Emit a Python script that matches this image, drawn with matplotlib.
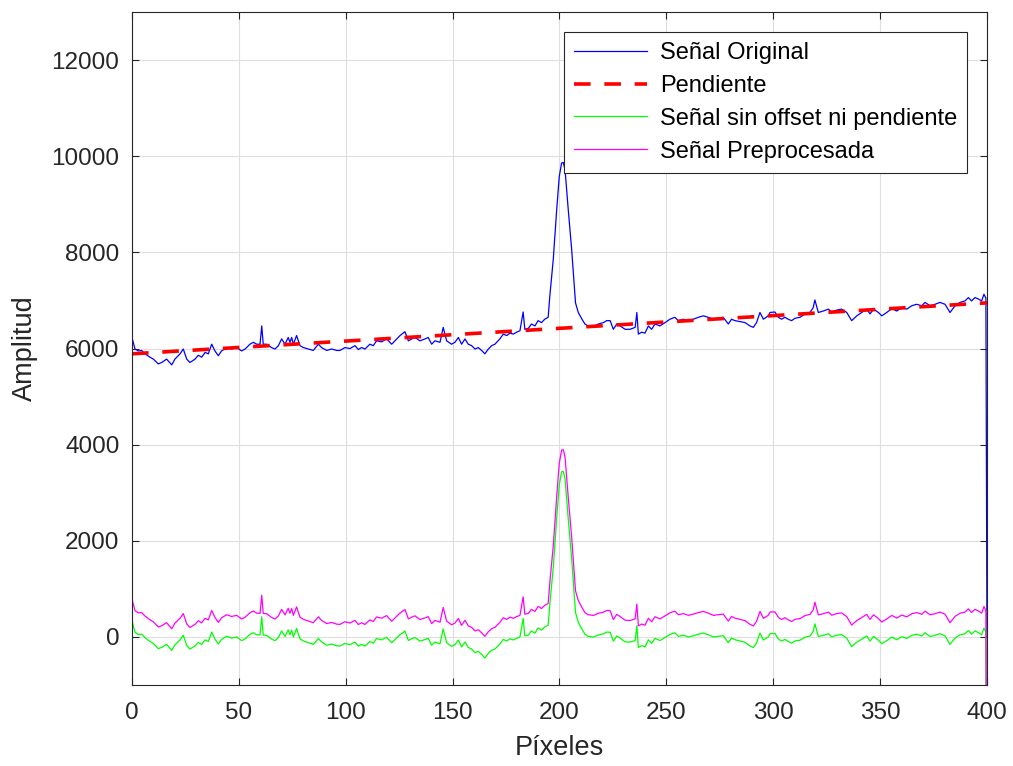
import numpy as np
import matplotlib
matplotlib.use("Agg")
import matplotlib.pyplot as plt

plt.rcParams['font.family'] = ['Liberation Sans', 'DejaVu Sans']

# pixel positions and original signal values
pixeles = [0, 1.4, 3, 4.5, 6.1, 8.4, 10, 12.3, 13.9, 16.2, 18.6, 20.1, 22.5, 24, 25.6, 27.1,
           29.5, 31, 32.6, 34.2, 35.7, 37.3, 38.8, 40.4, 41.9, 44.3, 46.6, 49, 51.3, 52.9,
           55.2, 56.8, 58.3, 59.9, 60.7, 61.4, 63, 65.3, 66.9, 68.5, 70, 71.6, 73.1, 73.9,
           74.7, 75.5, 77, 78.6, 80.2, 82.5, 84.8, 87.2, 88.7, 91.1, 93.4, 95.8,
           97.3, 99.6, 102, 104.3, 105.9, 107.4, 109, 111.3, 112.9, 114.4, 116.8, 119.1,
           121.5, 123, 125.4, 127.7, 129.3, 130.9, 132.4, 134.7, 137.1, 138.6, 140.2, 141.7,
           144.1, 145.6, 147.2, 149.5, 151.1, 152.7, 154.2, 155.8, 157.3, 158.9, 160.5, 162,
           163.6, 165.1, 166.7, 168.3, 169.8, 172.1, 173.7, 175.3, 176.8, 178.4, 179.9, 181.5,
           183, 183.8, 185.4, 186.9, 188.5, 190, 191.6, 193.1, 194.7, 195.5, 197.1, 198.7,
           199.9, 201, 201.8, 202.6, 204.1, 205.7, 206.6, 207.5, 208.8, 210.4, 211.9, 213.3,
           215.9, 218.2, 220.6, 222.1, 223.7, 225.2, 226.8, 228.4, 230.7, 233, 235.4, 236.2,
           236.9, 238.5, 240, 241.6, 243.1, 244.7, 247, 249.4, 251.7, 254, 255.6, 258, 260.3,
           262.6, 265, 267.3, 269.6, 272, 274.3, 276.6, 279, 280.5, 282.1, 284.4, 286.8,
           289.1, 290.7, 292.2, 293.8, 295.4, 297.7, 298.5, 300.8, 302.4, 303.9, 305.5, 307,
           308.6, 310.2, 312.5, 314.9, 317.2, 318.7, 319.5, 321.1, 323.4, 325.8, 327.4, 329.7,
           332, 334.4, 336.7, 339.1, 341.4, 343.7, 345.3, 346.9, 349.2, 350.8, 353.1, 355.5,
           357.8, 360.1, 362.5, 364.8, 367.1, 369.5, 371, 373.4, 375.7, 378, 380.4, 382.7,
           385.1, 387.4, 389.7, 391.3, 392.8, 394.4, 396, 397.5, 398.6, 399.5, 400]

senal_original = [6230, 5990, 5950, 5960, 5890, 5820, 5780, 5680, 5710, 5780, 5660, 5780, 5890,
                  5990, 5780, 5710, 5780, 5860, 5820, 5920, 5890, 6090, 5950, 5850, 5950, 6020,
                  5990, 6020, 5950, 5990, 6090, 6130, 6090, 6090, 6470, 6090, 6090, 6020, 5990,
                  6060, 6200, 6090, 6230, 6130, 6230, 6090, 6270, 6060, 6020, 5990, 5960, 6090,
                  6020, 5960, 5990, 5960,
                  5960, 6020, 6000, 6060, 5980, 6020, 5990, 6090, 6060, 6160, 6140, 6200,
                  6090, 6160, 6270, 6350, 6160, 6200, 6230, 6160, 6200, 6230, 6090, 6160,
                  6130, 6440, 6160, 6090, 6130, 6230, 6090, 6200, 6090, 6060, 5990, 6020,
                  5960, 5890, 5990, 6060, 6090, 6200, 6300, 6270, 6320, 6300, 6340, 6370,
                  6760, 6400, 6420, 6510, 6470, 6580, 6540, 6610, 6650, 7100, 7860, 8890,
                  9580, 9860, 9870, 9720, 8890, 8060, 7500, 6950, 6750, 6620, 6510, 6470,
                  6460, 6510, 6540, 6580, 6580, 6400, 6510, 6470, 6400, 6400, 6440, 6750,
                  6300, 6340, 6320, 6470, 6400, 6510, 6470, 6540, 6610, 6650, 6580, 6610, 6580,
                  6610, 6650, 6680, 6650, 6610, 6630, 6650, 6510, 6610, 6580, 6560, 6540,
                  6470, 6440, 6540, 6750, 6610, 6680, 6750, 6760, 6650, 6610, 6650, 6610,
                  6580, 6630, 6650, 6720, 6750, 6850, 7010, 6750, 6780, 6820, 6760, 6800,
                  6820, 6750, 6580, 6680, 6750, 6820, 6720, 6820, 6750, 6680, 6750, 6830,
                  6780, 6850, 6820, 6890, 6920, 6890, 6960, 6890, 6920, 6960, 6920, 6750,
                  6890, 6960, 6990, 7060, 6990, 7060, 7030, 6990, 7130, 7050, 0]

# linear trend ("pendiente") end points and offset added back
pendiente_ini = 5890
pendiente_fin = 6950
offset = 450

x = np.array(pixeles)
y = np.array(senal_original, dtype=float)
pendiente = pendiente_ini + (pendiente_fin - pendiente_ini) * x / 400.0
sin_pendiente = y - pendiente
preprocesada = sin_pendiente + offset

fig = plt.figure(figsize=(10.13, 7.66), dpi=100)
ax = fig.add_axes([0.1303, 0.1057, 0.844, 0.8786])

ax.plot(x, y, color=(0, 0, 1), lw=0.9, label='Señal Original')
ax.plot(x, pendiente, color=(1, 0, 0), lw=2.6, dashes=(4.6, 3.8), label='Pendiente')
ax.plot(x, sin_pendiente, color=(0, 1, 0), lw=0.9, label='Señal sin offset ni pendiente')
ax.plot(x, preprocesada, color=(1, 0, 1), lw=0.9, label='Señal Preprocesada')

ax.set_xlim(0, 400)
ax.set_ylim(-1000, 13000)
ax.set_xticks(np.arange(0, 401, 50))
ax.set_yticks(np.arange(0, 12001, 2000))

dark = (0.15, 0.15, 0.15)
ax.grid(True, color=(0.87, 0.87, 0.87), lw=0.8)
ax.set_axisbelow(True)
ax.tick_params(direction='in', length=5, width=0.8, colors=dark, labelsize=17.5,
               top=True, right=True, labelcolor=dark)
ax.tick_params(axis='x', pad=12)
ax.tick_params(axis='y', pad=9)
for s in ax.spines.values():
    s.set_color(dark)
    s.set_linewidth(0.8)

ax.set_xlabel('Píxeles', fontsize=19.5, color=dark, labelpad=8)
ax.set_ylabel('Amplitud', fontsize=19.5, color=dark, labelpad=10)

leg = ax.legend(loc='upper right', fontsize=17, fancybox=False, framealpha=1,
                edgecolor=dark, handlelength=3.1, handletextpad=0.55,
                labelspacing=0.46, borderaxespad=0.85, borderpad=0.42)
leg.get_frame().set_linewidth(0.8)

fig.savefig('out.png', dpi=100)
